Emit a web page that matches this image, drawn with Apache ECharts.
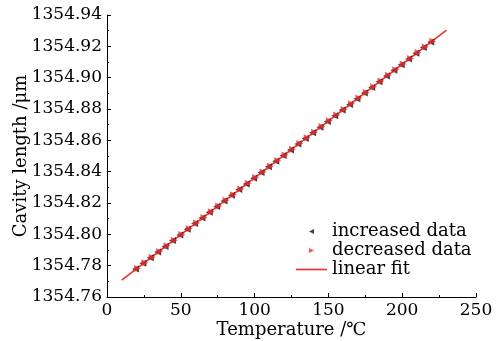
<!DOCTYPE html>
<html>
<head>
<meta charset="utf-8">
<script src="https://cdn.jsdelivr.net/npm/echarts@6/dist/echarts.min.js"></script>
<style>
html, body { margin: 0; padding: 0; background: #fff; }
#chart { width: 497px; height: 341px; }
</style>
</head>
<body>
<div id="chart"></div>
<script>
// temperature points (°C)
var temps = [20, 25, 30, 35, 40, 45, 50, 55, 60, 65, 70, 75, 80, 85, 90, 95, 100,
	105, 110, 115, 120, 125, 130, 135, 140, 145, 150, 155, 160, 165, 170, 175, 180,
	185, 190, 195, 200, 205, 210, 215, 220];
// cavity length (um), heating
var increased = [1354.7778, 1354.7815, 1354.7851, 1354.7888, 1354.7923, 1354.7960, 1354.7996,
	1354.8032, 1354.8069, 1354.8104, 1354.8141, 1354.8177, 1354.8213, 1354.8249, 1354.8286,
	1354.8322, 1354.8358, 1354.8394, 1354.8431, 1354.8467, 1354.8503, 1354.8539, 1354.8576,
	1354.8612, 1354.8648, 1354.8684, 1354.8721, 1354.8757, 1354.8793, 1354.8829, 1354.8866,
	1354.8902, 1354.8938, 1354.8974, 1354.9011, 1354.9047, 1354.9083, 1354.9119, 1354.9156,
	1354.9192, 1354.9228];
// cavity length (um), cooling
var decreased = [1354.7782, 1354.7818, 1354.7854, 1354.7891, 1354.7927, 1354.7963, 1354.7999,
	1354.8036, 1354.8072, 1354.8108, 1354.8144, 1354.8181, 1354.8217, 1354.8253, 1354.8290,
	1354.8326, 1354.8362, 1354.8398, 1354.8435, 1354.8471, 1354.8507, 1354.8543, 1354.8580,
	1354.8616, 1354.8652, 1354.8688, 1354.8725, 1354.8761, 1354.8797, 1354.8833, 1354.8870,
	1354.8906, 1354.8942, 1354.8978, 1354.9015, 1354.9051, 1354.9087, 1354.9123, 1354.9160,
	1354.9196, 1354.9232];
// fitted line end points
var fitX = [10, 230];
var fitY = [1354.7708, 1354.9303];

var font = 'DejaVu Serif';
var red = '#f03030';
var leftTri = 'path://M0,5L10,0L10,10Z';
var rightTri = 'path://M10,5L0,0L0,10Z';
var dash = 'path://M0,0L30,0L30,1.6L0,1.6Z';

function pairs(xs, ys) {
	var out = [];
	for (var i = 0; i < xs.length; i++) {
		out.push([xs[i], ys[i]]);
	}
	return out;
}

var myChart = echarts.init(document.getElementById('chart'), null, {renderer: 'canvas'});
var option = {
	animation: false,
	grid: {
		left: 107,
		right: 21,
		top: 15,
		bottom: 44,
		containLabel: false,
		outerBoundsMode: 'none'
	},
	legend: {
		orient: 'vertical',
		left: 296,
		top: 222,
		padding: 0,
		itemWidth: 31,
		itemHeight: 5,
		itemGap: 0,
		itemTextGap: 4,
		textStyle: {
			fontFamily: font,
			fontSize: 18,
			color: '#000',
			lineHeight: 19
		},
		data: [
			{name: 'increased data', icon: leftTri},
			{name: 'decreased data', icon: rightTri},
			{name: 'linear fit', icon: dash}
		]
	},
	xAxis: {
		type: 'value',
		min: 0,
		max: 250,
		interval: 50,
		name: 'Temperature /℃',
		nameLocation: 'middle',
		nameGap: 24,
		nameMoveOverlap: false,
		nameTextStyle: {fontFamily: font, fontSize: 18, color: '#000'},
		axisLine: {lineStyle: {color: '#000', width: 1}},
		axisTick: {inside: true, length: 4, lineStyle: {color: '#000'}},
		minorTick: {show: true, splitNumber: 2, length: 2, lineStyle: {color: '#000'}},
		splitLine: {show: false},
		axisLabel: {fontFamily: font, fontSize: 17, color: '#000', margin: 5}
	},
	yAxis: {
		type: 'value',
		min: 1354.76,
		max: 1354.94,
		interval: 0.02,
		name: 'Cavity length /μm',
		nameLocation: 'middle',
		nameGap: 77,
		nameMoveOverlap: false,
		nameTextStyle: {fontFamily: font, fontSize: 18, color: '#000'},
		axisLine: {show: true, lineStyle: {color: '#000', width: 1}},
		axisTick: {show: true, inside: true, length: 4, lineStyle: {color: '#000'}},
		minorTick: {show: true, splitNumber: 2, length: 2, lineStyle: {color: '#000'}},
		splitLine: {show: false},
		axisLabel: {
			fontFamily: font,
			fontSize: 17,
			color: '#000',
			margin: 5,
			formatter: function(v) { return v.toFixed(2); }
		}
	},
	series: [
		{
			name: 'linear fit',
			type: 'line',
			data: pairs(fitX, fitY),
			showSymbol: false,
			symbol: 'none',
			lineStyle: {color: red, width: 1.6},
			itemStyle: {color: red},
			z: 1
		},
		{
			name: 'increased data',
			type: 'scatter',
			data: pairs(temps, increased),
			symbol: leftTri,
			symbolSize: 7,
			symbolOffset: [-1, 0],
			itemStyle: {color: '#111'},
			z: 2
		},
		{
			name: 'decreased data',
			type: 'scatter',
			data: pairs(temps, decreased),
			symbol: rightTri,
			symbolSize: 7,
			symbolOffset: [1, 0],
			itemStyle: {color: red},
			z: 3
		}
	]
};
myChart.setOption(option);
</script>
</body>
</html>
